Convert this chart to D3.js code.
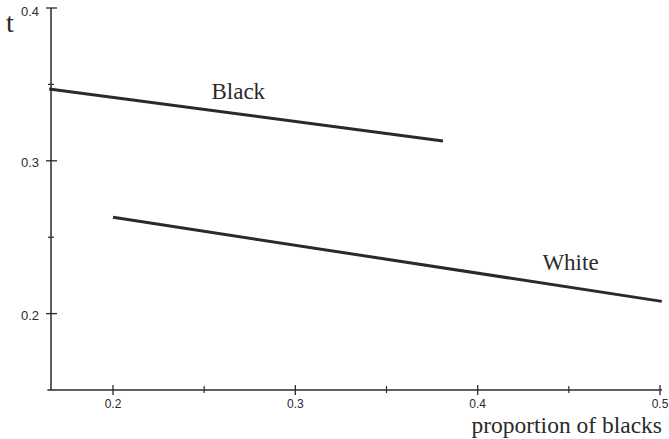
<!DOCTYPE html>
<html><head><meta charset="utf-8">
<script src="https://cdn.jsdelivr.net/npm/d3@7"></script>
<style>body{margin:0;background:#fff}svg{display:block}</style>
</head><body>
<script>
const xMajorTicks = [0.2, 0.3, 0.4, 0.5];
const xMinorTicks = [0.25, 0.35, 0.45];
const yMajorTicks = [0.2, 0.3, 0.4];
const yMinorTicks = [0.25, 0.35];
const seriesNames = ["Black", "White"];
const blackX = [0.165, 0.381];
const blackT = [0.347, 0.313];
const whiteX = [0.2, 0.501];
const whiteT = [0.263, 0.208];
const labelPos = [[0.254, 0.3405], [0.4355, 0.2285]];

const W = 669, H = 439;
const svg = d3.select("body").append("svg").attr("width", W).attr("height", H);
const x = d3.scaleLinear().domain([0.2, 0.5]).range([113, 660]);
const y = d3.scaleLinear().domain([0.15, 0.4]).range([390, 8]);
const ink = "#2a2a2a";
const sans = "Liberation Sans, Arial, sans-serif";
const serif = "Liberation Serif, Times New Roman, serif";

// y axis
const yAxis = svg.append("g").attr("transform", `translate(${x(0.166)},0)`);
yAxis.append("line").attr("y1", y(0.4)).attr("y2", y(0.15)).attr("stroke", ink).attr("stroke-width", 1.5);
yAxis.selectAll(".ymaj").data(yMajorTicks).join("line")
  .attr("x1", -5).attr("x2", 6).attr("y1", d => y(d)).attr("y2", d => y(d)).attr("stroke", ink).attr("stroke-width", 1.3);
yAxis.selectAll(".ymin").data(yMinorTicks).join("line")
  .attr("x1", -3).attr("x2", 3).attr("y1", d => y(d)).attr("y2", d => y(d)).attr("stroke", ink).attr("stroke-width", 1.2);
yAxis.selectAll(".ylab").data(yMajorTicks).join("text")
  .attr("x", -12).attr("y", d => d === 0.4 ? y(d) + 8 : y(d) + 6)
  .attr("text-anchor", "end").attr("font-family", sans)
  .attr("font-size", 13).attr("fill", ink).text(d => d3.format(".1f")(d));

// x axis
const xAxis = svg.append("g").attr("transform", `translate(0,${y(0.15)})`);
xAxis.append("line").attr("x1", x(0.164)).attr("x2", x(0.5) + 2).attr("stroke", ink).attr("stroke-width", 1.5);
xAxis.selectAll(".xmaj").data(xMajorTicks).join("line")
  .attr("x1", d => x(d)).attr("x2", d => x(d)).attr("y1", -5).attr("y2", 5).attr("stroke", ink).attr("stroke-width", 1.3);
xAxis.selectAll(".xmin").data(xMinorTicks).join("line")
  .attr("x1", d => x(d)).attr("x2", d => x(d)).attr("y1", -4).attr("y2", 3).attr("stroke", ink).attr("stroke-width", 1.2);
xAxis.selectAll(".xlab").data(xMajorTicks).join("text")
  .attr("x", d => x(d)).attr("y", 18).attr("text-anchor", "middle")
  .attr("font-family", sans).attr("font-size", 12).attr("fill", ink)
  .text(d => d3.format(".1f")(d));

// axis titles
svg.append("text").attr("x", 6).attr("y", 32).attr("font-family", serif)
  .attr("font-size", 28).attr("fill", ink).text("t");
svg.append("text").attr("x", 662).attr("y", 433).attr("text-anchor", "end")
  .attr("font-family", serif).attr("font-size", 23.5).attr("fill", ink)
  .text("proportion of blacks");

// lines
const line = d3.line().x(d => x(d[0])).y(d => y(d[1]));
const series = [d3.zip(blackX, blackT), d3.zip(whiteX, whiteT)];
svg.selectAll(".series").data(series).join("path")
  .attr("d", line).attr("fill", "none").attr("stroke", ink).attr("stroke-width", 3);

svg.selectAll(".slab").data(seriesNames).join("text")
  .attr("x", (d, i) => x(labelPos[i][0])).attr("y", (d, i) => y(labelPos[i][1]))
  .attr("font-family", serif).attr("font-size", 23).attr("fill", ink)
  .text(d => d);
</script>
</body></html>
